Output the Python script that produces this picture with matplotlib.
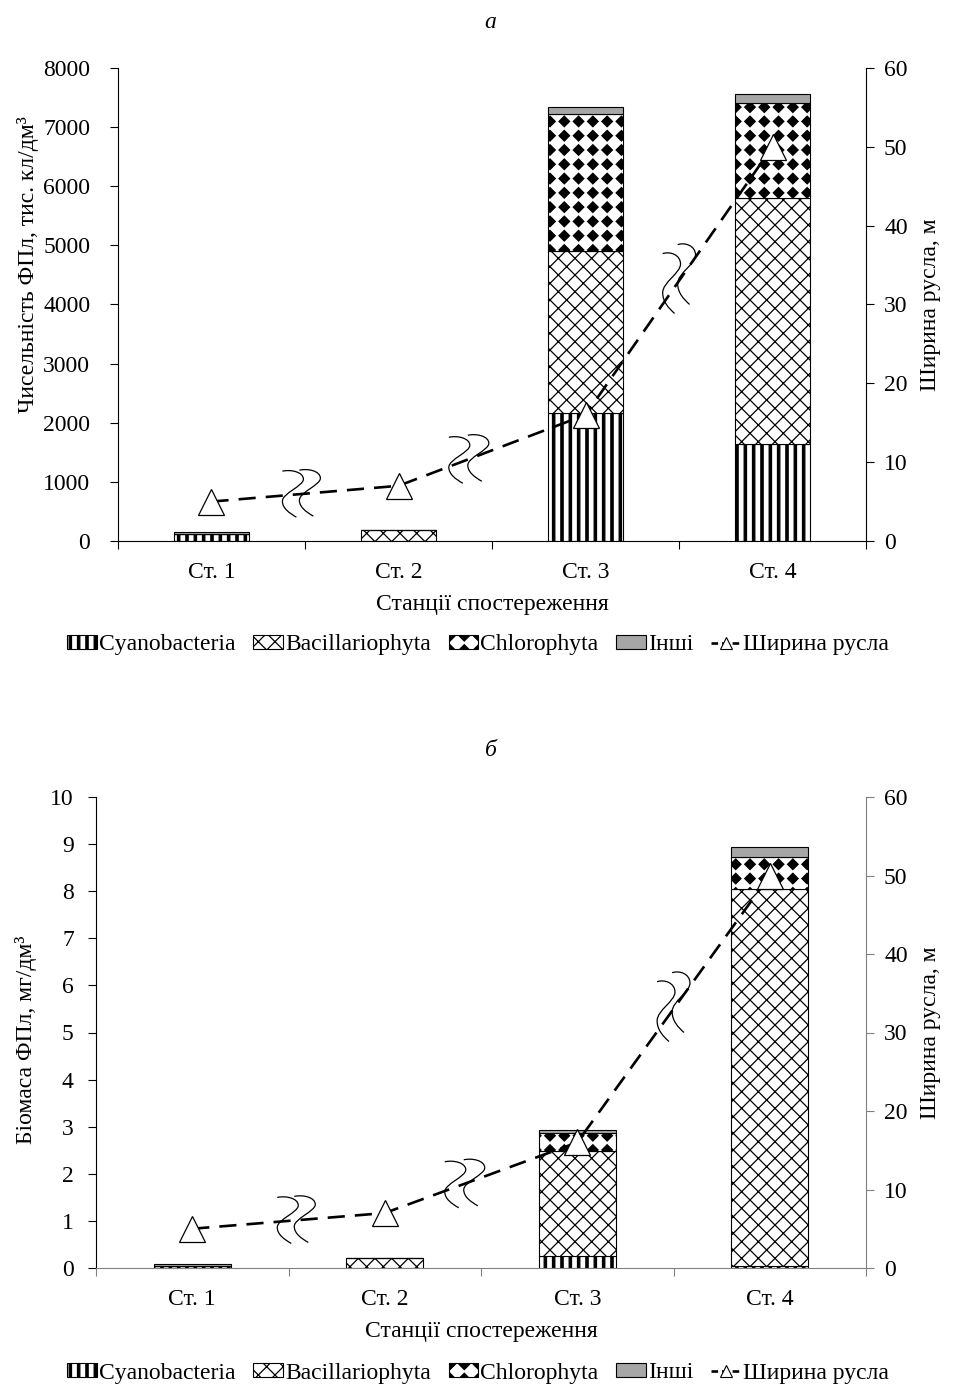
import numpy as np
import matplotlib
matplotlib.use('Agg')
import matplotlib.pyplot as plt
import matplotlib.hatch as mhatch
import matplotlib.transforms as mtransforms
from matplotlib.path import Path
from matplotlib.patches import PathPatch
from matplotlib.lines import Line2D

# ---------------- data ----------------
stations = ['Ст. 1', 'Ст. 2', 'Ст. 3', 'Ст. 4']
groups = ['Cyanobacteria', 'Bacillariophyta', 'Chlorophyta', 'Інші']
line_label = 'Ширина русла'

# abundance, thousand cells / dm3
num_cyano = [125, 0, 2170, 1640]
num_bacill = [0, 190, 2735, 4160]
num_chloro = [0, 0, 2317, 1607]
num_other = [20, 0, 120, 150]

# biomass, mg / dm3
bio_cyano = [0.05, 0.0, 0.25, 0.05]
bio_bacill = [0.0, 0.22, 2.23, 8.0]
bio_chloro = [0.0, 0.0, 0.39, 0.68]
bio_other = [0.03, 0.0, 0.06, 0.21]

# channel width, m
channel_width = [5, 7, 16, 50]

# ---------------- custom hatches ----------------
class StripeHatch(mhatch.HatchPatternBase):
    def __init__(self, hatch, density):
        self.n = int(hatch.count('o') * density * 2)
        self.num_vertices = self.n * 5

    def set_vertices_and_codes(self, vertices, codes):
        n = self.n
        w = 0.28 / n
        k = 0
        for i in range(n):
            x0 = (i + 0.3) / n
            vertices[k:k + 5] = [(x0, -0.02), (x0 + w, -0.02), (x0 + w, 1.02),
                                 (x0, 1.02), (x0, -0.02)]
            codes[k:k + 5] = [Path.MOVETO, Path.LINETO, Path.LINETO,
                              Path.LINETO, Path.CLOSEPOLY]
            k += 5


class DiamondHatch(mhatch.HatchPatternBase):
    def __init__(self, hatch, density):
        self.n = int(round(hatch.count('*') * density * 7 / 6))
        self.num_vertices = self.n * self.n * 5

    def set_vertices_and_codes(self, vertices, codes):
        n = self.n
        a = 0.37 / n
        k = 0
        for i in range(n):
            for j in range(n):
                cx, cy = (i + 0.5) / n, (j + 0.5) / n
                vertices[k:k + 5] = [(cx, cy + a), (cx + a, cy), (cx, cy - a),
                                     (cx - a, cy), (cx, cy + a)]
                codes[k:k + 5] = [Path.MOVETO, Path.LINETO, Path.LINETO,
                                  Path.LINETO, Path.CLOSEPOLY]
                k += 5


mhatch._hatch_types = [t for t in mhatch._hatch_types
                       if t not in (mhatch.SmallCircles, mhatch.Stars)] + [StripeHatch, DiamondHatch]

# ---------------- style ----------------
plt.rcParams['font.family'] = ['Liberation Serif', 'DejaVu Serif']
plt.rcParams['hatch.linewidth'] = 0.9
FS = 17

W, H = 956, 1387
fig = plt.figure(figsize=(W / 100, H / 100), dpi=100)

hatches = ['o', 'xx', '*', None]
faces = ['white', 'white', 'white', '#A6A6A6']


def squiggle(ax2, xd, yd, off, sx=1.0, sy=1.0):
    base = np.array([(-17, 23), (-8, 25), (4, 22), (4, 15),
                     (4, 8), (-17, 1), (-17, -7),
                     (-17, -14), (-10, -19), (-3, -23)], float)
    codes = [Path.MOVETO] + [Path.CURVE4] * 9
    for shift in [(0, 0), off]:
        v = base * [sx, sy] + shift
        tr = (mtransforms.Affine2D().scale(fig.dpi / 100.0)
              + mtransforms.ScaledTranslation(xd, yd, ax2.transData))
        pp = PathPatch(Path(v, codes), fill=False, edgecolor='black', lw=0.9,
                       transform=tr, zorder=6, clip_on=False)
        ax2.add_artist(pp)


def panel(rect, vals, ymax, ystep, ylabel, ylabel_x, ylabel_y, lpad, axis_col,
          break_x, offs, scales, letter, letter_y, legend_y):
    ax = fig.add_axes(rect)
    x = np.arange(len(stations)) + 0.5
    bottom = np.zeros(len(stations))
    bars = []
    for v, h, fc, g in zip(vals, hatches, faces, groups):
        b = ax.bar(x, v, 0.4, bottom=bottom, color=fc, edgecolor='black',
                   linewidth=0.8, hatch=h, label=g, zorder=2)
        bars.append(b)
        bottom = bottom + np.array(v)
    ax.set_xlim(0, len(stations))
    ax.set_ylim(0, ymax)
    ax.set_yticks(np.arange(0, ymax + ystep / 2, ystep))
    ax.set_xticks(np.arange(0, len(stations) + 1))
    ax.set_xticklabels([])
    ax.set_xticks(x, minor=True)
    ax.set_xticklabels(stations, minor=True, fontsize=FS)
    ax.tick_params(axis='x', which='minor', length=0, pad=15)
    ax.tick_params(axis='x', which='major', length=6, direction='out', color=axis_col)
    ax.tick_params(axis='y', length=6, direction='out', labelsize=FS, pad=lpad)
    for s in ['top', 'right']:
        ax.spines[s].set_visible(False)
    ax.spines['bottom'].set_color(axis_col)
    ax.spines['left'].set_color('black')
    ax.set_ylabel(ylabel, fontsize=FS)
    ax.yaxis.set_label_coords(ylabel_x, ylabel_y)
    ax.set_xlabel('Станції спостереження', fontsize=FS, labelpad=8)

    ax2 = ax.twinx()
    ax2.set_ylim(0, 60)
    ax2.set_yticks(np.arange(0, 61, 10))
    ax2.tick_params(axis='y', length=6, direction='out', labelsize=FS, pad=7,
                    color=axis_col)
    for s in ['top', 'left', 'bottom']:
        ax2.spines[s].set_visible(False)
    ax2.spines['right'].set_color(axis_col)
    ax2.set_ylabel('Ширина русла, м', fontsize=FS, labelpad=9)
    ax2.plot(x, channel_width, color='black', lw=1.9, ls=(0, (6.5, 3.8)),
             marker='^', ms=19, mfc='white', mec='black', mew=0.9, zorder=5)
    for bx, off, sc in zip(break_x, offs, scales):
        by = np.interp(bx, x, channel_width)
        squiggle(ax2, bx, by, off, *sc)

    handles = bars + [Line2D([], [], color='black', lw=1.9, ls=(0, (2.5, 1.5)),
                             marker='^', ms=9, mfc='white', mec='black', mew=0.8)]
    labels = groups + [line_label]
    fig.legend(handles, labels, loc='center', bbox_to_anchor=(0.5, 1 - legend_y / H),
               ncol=5, frameon=False, fontsize=FS, handlelength=1.25,
               handleheight=0.5, handletextpad=0.1, columnspacing=0.75)
    fig.text(0.513, 1 - letter_y / H, letter, fontsize=FS, style='italic',
             ha='center', va='center')
    return ax, ax2


panel([118 / W, 1 - 541 / H, 748 / W, 473 / H],
      [num_cyano, num_bacill, num_chloro, num_other], 8000, 1000,
      'Чисельність ФПл, тис. кл/дм³', -0.105, 0.585, 14, 'black',
      [0.97, 1.86, 2.99], [(17, 1), (19, 2), (15, 9)],
      [(1.0, 1.0), (1.0, 1.0), (0.85, 1.3)], 'а', 23, 645)

panel([96 / W, 1 - 1268 / H, 770 / W, 471 / H],
      [bio_cyano, bio_bacill, bio_chloro, bio_other], 10, 1,
      'Біомаса ФПл, мг/дм³', -0.076, 0.484, 10, '#808080',
      [1.03, 1.90, 2.99], [(17, 1), (19, 2), (15, 9)],
      [(1.0, 1.0), (1.0, 1.0), (0.85, 1.3)], 'б', 751, 1373)

fig.savefig('out.png', dpi=100)
